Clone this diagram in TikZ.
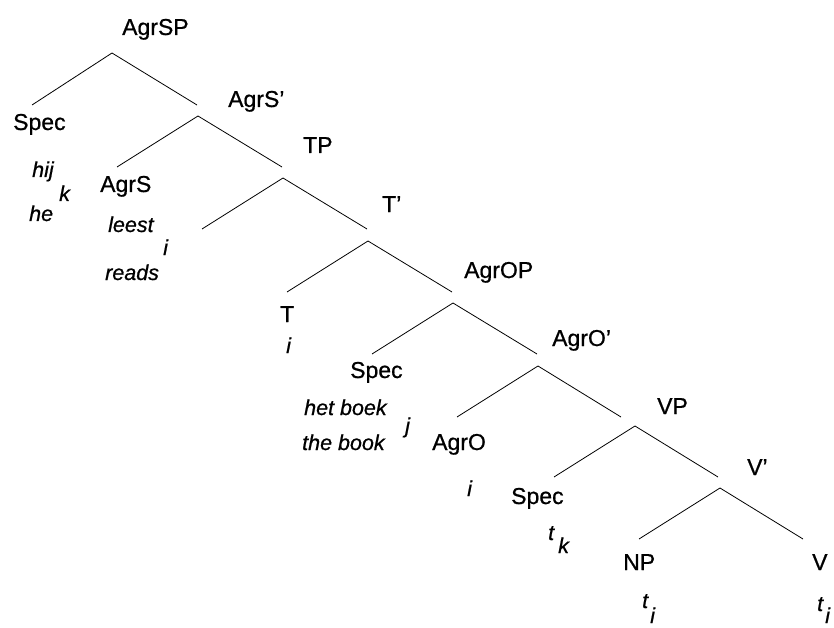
\documentclass[tikz,border=0pt]{standalone}
\usepackage{fontspec}
\setmainfont{Liberation Sans}[FakeBold=0.7]
\begin{document}
\begin{tikzpicture}[x=1pt,y=-1pt,
  lab/.style={anchor=base west,inner sep=0pt,font=\fontsize{23}{23}\selectfont},
  itl/.style={anchor=base west,inner sep=0pt,font=\fontsize{21.5}{21.5}\selectfont\itshape},
  branch/.style={line width=0.8pt}]
\useasboundingbox (0,0) rectangle (834,628);
% labels
\node[lab] (agrsp) at (122,35) {AgrSP};
\node[lab] (agrsb) at (228,107) {AgrS’};
\node[lab] (tp) at (303,153) {TP};
\node[lab] (tb) at (382,212) {T’};
\node[lab] (agrop) at (464,278) {AgrOP};
\node[lab] (agrob) at (552,346) {AgrO’};
\node[lab] (vp) at (657,414) {VP};
\node[lab] (vb) at (747,475) {V’};
\node[lab] (spec1) at (13,130) {Spec};
\node[itl] (hij) at (32,177) {hij};
\node[itl] (k1) at (59,201) {k};
\node[itl] (he) at (29,221) {he};
\node[lab] (agrs) at (100,192) {AgrS};
\node[itl] (leest) at (108,232) {leest};
\node[itl] (i1) at (163,255) {i};
\node[itl] (reads) at (105,280) {reads};
\node[lab] (t) at (280,322) {T};
\node[itl] (i2) at (286,353) {i};
\node[lab] (spec2) at (350,378) {Spec};
\node[itl] (hetboek) at (304,415) {het boek};
\node[itl] (j1) at (405,433) {j};
\node[itl] (thebook) at (302,450) {the book};
\node[lab] (agro) at (432,450) {AgrO};
\node[itl] (i3) at (467,496) {i};
\node[lab] (spec3) at (511,504) {Spec};
\node[itl] (t1) at (548,540) {t};
\node[itl] (k2) at (558,553) {k};
\node[lab] (np) at (623,570) {NP};
\node[itl] (t2) at (642,608) {t};
\node[itl] (i4) at (650,623) {i};
\node[lab] (v) at (812,570) {V};
\node[itl] (t3) at (817,611) {t};
\node[itl] (i5) at (825,623) {i};
% branch points
\coordinate (a1) at (112,53);  \coordinate (l1) at (32,105);  \coordinate (r1) at (197,105);
\coordinate (a2) at (198,116); \coordinate (l2) at (117,167); \coordinate (r2) at (282,167);
\coordinate (a3) at (283,178); \coordinate (l3) at (202,229); \coordinate (r3) at (367,229);
\coordinate (a4) at (368,241); \coordinate (l4) at (287,292); \coordinate (r4) at (452,292);
\coordinate (a5) at (453,303); \coordinate (l5) at (372,354); \coordinate (r5) at (537,354);
\coordinate (a6) at (538,366); \coordinate (l6) at (457,417); \coordinate (r6) at (621,417);
\coordinate (a7) at (635,426); \coordinate (l7) at (554,477); \coordinate (r7) at (718,477);
\coordinate (a8) at (720,488); \coordinate (l8) at (639,539); \coordinate (r8) at (803,539);
\foreach \n in {1,...,8}{\draw[branch] (l\n) -- (a\n) -- (r\n);}
\end{tikzpicture}
\end{document}
